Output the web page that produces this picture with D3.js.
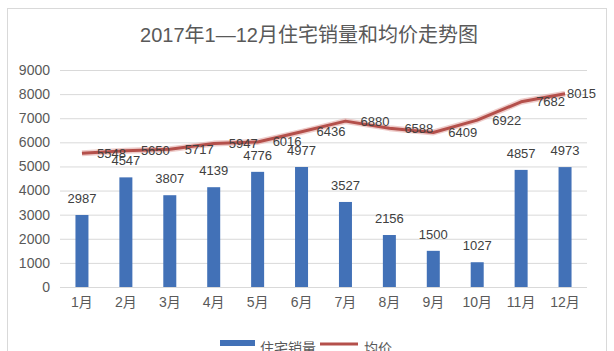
<!DOCTYPE html>
<html>
<head>
<meta charset="utf-8">
<script src="https://cdn.jsdelivr.net/npm/d3@7"></script>
<style>
  body { margin: 0; background: #fff; }
  svg { display: block; font-family: 'Liberation Sans', 'Noto Sans CJK SC', sans-serif; }
</style>
</head>
<body>
<svg></svg>
<script>
const months = ['1月', '2月', '3月', '4月', '5月', '6月', '7月', '8月', '9月', '10月', '11月', '12月'];
const sales = [2987, 4547, 3807, 4139, 4776, 4977, 3527, 2156, 1500, 1027, 4857, 4973];
const prices = [5548, 5650, 5717, 5947, 6016, 6436, 6880, 6588, 6409, 6922, 7682, 8015];
const yTicks = [0, 1000, 2000, 3000, 4000, 5000, 6000, 7000, 8000, 9000];

const width = 614;
const height = 351;
const plotLeft = 60, plotRight = 587, plotTop = 70, plotBottom = 287;

const svg = d3.select('svg').attr('width', width).attr('height', height);

// chart area border
svg.append('rect')
    .attr('x', 7.5).attr('y', 8.5)
    .attr('width', 599).attr('height', 360)
    .attr('fill', '#fff')
    .attr('stroke', '#d9d9d9');

svg.append('text')
    .attr('x', 309).attr('y', 42)
    .attr('text-anchor', 'middle')
    .attr('font-size', 20)
    .attr('fill', '#595959')
    .text('2017年1—12月住宅销量和均价走势图');

const x = d3.scaleBand().domain(months).range([plotLeft, plotRight]);
const y = d3.scaleLinear().domain([0, 9000]).range([plotBottom, plotTop]);

// gridlines
svg.append('g').selectAll('line').data(yTicks)
    .enter().append('line')
    .attr('x1', plotLeft).attr('x2', plotRight)
    .attr('y1', d => y(d) + 0.5).attr('y2', d => y(d) + 0.5)
    .attr('stroke', '#d9d9d9');

// y axis labels
svg.append('g').selectAll('text').data(yTicks)
    .enter().append('text')
    .attr('x', 50).attr('y', d => y(d))
    .attr('dy', '0.35em')
    .attr('text-anchor', 'end')
    .attr('font-size', 14)
    .attr('fill', '#595959')
    .text(d => d);

// x axis labels
svg.append('g').selectAll('text').data(months)
    .enter().append('text')
    .attr('x', d => x(d) + x.bandwidth() / 2)
    .attr('y', 302)
    .attr('dy', '0.35em')
    .attr('text-anchor', 'middle')
    .attr('font-size', 14)
    .attr('fill', '#595959')
    .text(d => d);

// bars
const barW = 13;
svg.append('g').selectAll('rect').data(sales)
    .enter().append('rect')
    .attr('x', (d, i) => x(months[i]) + x.bandwidth() / 2 - barW / 2)
    .attr('y', d => y(d))
    .attr('width', barW)
    .attr('height', d => y(0) - y(d))
    .attr('fill', '#4271b7');

svg.append('g').selectAll('text').data(sales)
    .enter().append('text')
    .attr('x', (d, i) => x(months[i]) + x.bandwidth() / 2)
    .attr('y', d => y(d) - 12)
    .attr('text-anchor', 'middle')
    .attr('font-size', 13)
    .attr('fill', '#404040')
    .text(d => d);

// price line
const line = d3.line()
    .x((d, i) => x(months[i]) + x.bandwidth() / 2)
    .y(d => y(d));

svg.append('path').datum(prices)
    .attr('d', line)
    .attr('fill', 'none')
    .attr('stroke', '#e3aaa6')
    .attr('stroke-width', 6)
    .attr('stroke-opacity', 0.6)
    .attr('stroke-linejoin', 'round');

svg.append('path').datum(prices)
    .attr('d', line)
    .attr('fill', 'none')
    .attr('stroke', '#b4504b')
    .attr('stroke-width', 3)
    .attr('stroke-linejoin', 'round');

svg.append('g').selectAll('text').data(prices)
    .enter().append('text')
    .attr('x', (d, i) => Math.min(x(months[i]) + x.bandwidth() / 2 + 15, 567))
    .attr('y', d => y(d))
    .attr('dy', '0.35em')
    .attr('font-size', 13)
    .attr('fill', '#404040')
    .text(d => d);

// legend
const legend = svg.append('g');
legend.append('rect')
    .attr('x', 220).attr('y', 340)
    .attr('width', 35).attr('height', 6)
    .attr('fill', '#4271b7');
legend.append('text')
    .attr('x', 260).attr('y', 348)
    .attr('dy', '0.35em')
    .attr('font-size', 14)
    .attr('fill', '#595959')
    .text('住宅销量');
legend.append('line')
    .attr('x1', 320).attr('x2', 358)
    .attr('y1', 344).attr('y2', 344)
    .attr('stroke', '#b4504b')
    .attr('stroke-width', 3);
legend.append('text')
    .attr('x', 364).attr('y', 348)
    .attr('dy', '0.35em')
    .attr('font-size', 14)
    .attr('fill', '#595959')
    .text('均价');
</script>
</body>
</html>
